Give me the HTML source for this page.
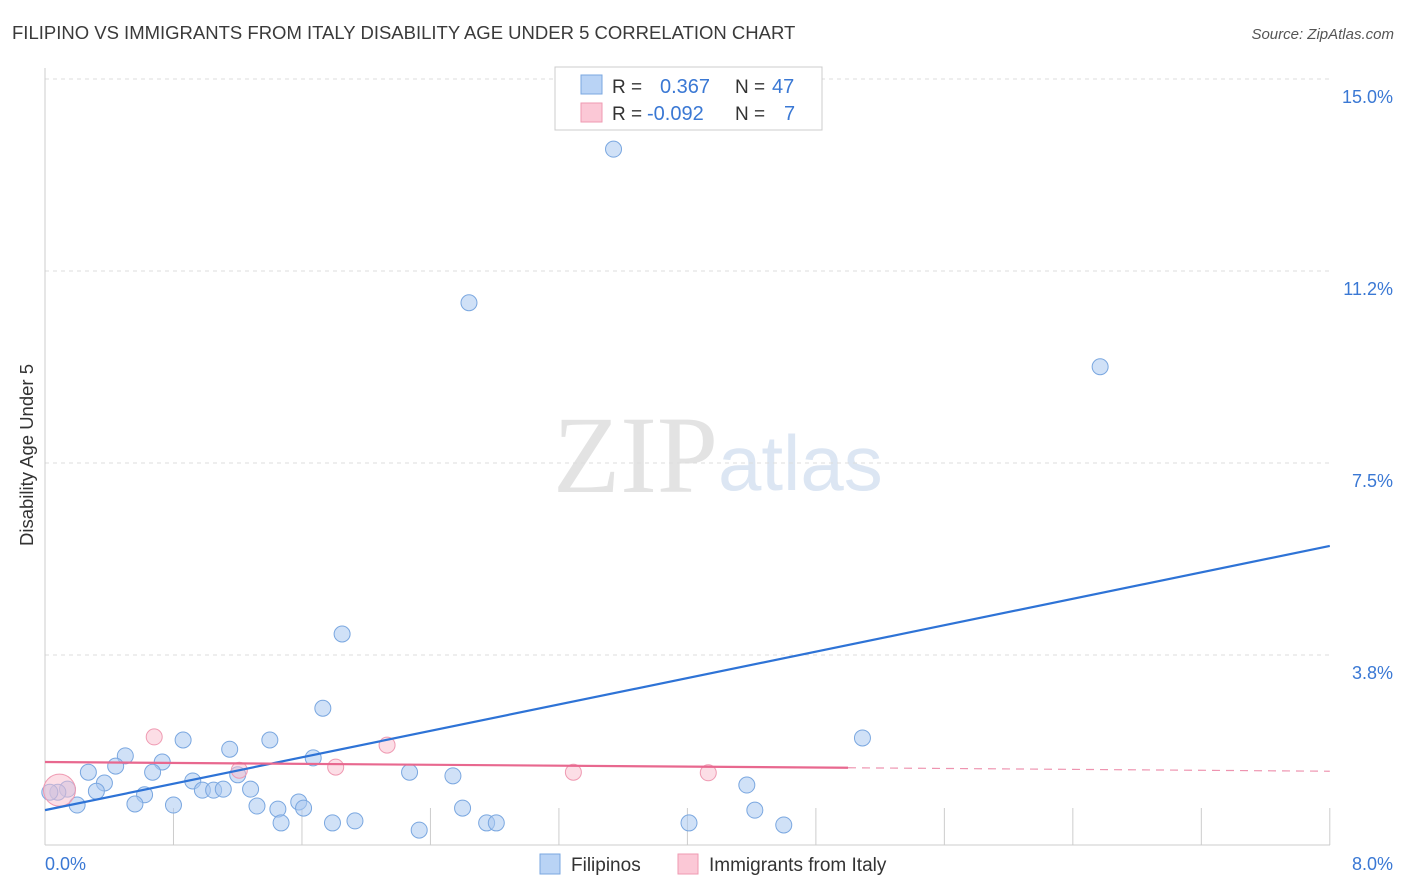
<!DOCTYPE html>
<html><head><meta charset="utf-8"><style>
body{margin:0;background:#fff;font-family:"Liberation Sans",sans-serif}
svg{display:block}
</style></head><body>
<svg width="1406" height="892" id="chart">
<text x="12" y="39" font-size="18.5" fill="#3a3a3a">FILIPINO VS IMMIGRANTS FROM ITALY DISABILITY AGE UNDER 5 CORRELATION CHART</text>
<text x="1394" y="39" font-size="15" fill="#555" font-style="italic" text-anchor="end">Source: ZipAtlas.com</text>
<text x="33" y="455" font-size="18.5" fill="#333" text-anchor="middle" transform="rotate(-90 33 455)">Disability Age Under 5</text>
<text x="553" y="492" font-size="110" fill="#e3e3e3" font-family="Liberation Serif,serif">ZIP</text>
<text x="718" y="490" font-size="78" fill="#dce6f3">atlas</text>
<g id="grid"></g><g id="marks"></g>
<g>
<rect x="555" y="67" width="267" height="63" fill="#fff" stroke="#ccc"/>
<rect x="581" y="75" width="21" height="19" fill="#b9d3f5" stroke="#7aa7e0"/>
<rect x="581" y="103" width="21" height="19" fill="#fbc8d6" stroke="#ef9ab2"/>
<text x="612" y="93" font-size="19" fill="#333">R =</text><text x="660" y="93" font-size="20" fill="#3a78d4">0.367</text>
<text x="735" y="93" font-size="19" fill="#333">N =</text><text x="772" y="93" font-size="20" fill="#3a78d4">47</text>
<text x="612" y="120" font-size="19" fill="#333">R =</text><text x="647" y="120" font-size="20" fill="#3a78d4">-0.092</text>
<text x="735" y="120" font-size="19" fill="#333">N =</text><text x="784" y="120" font-size="20" fill="#3a78d4">7</text>
</g>
<g>
<rect x="540" y="854" width="20" height="20" fill="#b9d3f5" stroke="#7aa7e0"/>
<text x="571" y="871" font-size="19" fill="#333">Filipinos</text>
<rect x="678" y="854" width="20" height="20" fill="#fbc8d6" stroke="#ef9ab2"/>
<text x="709" y="871" font-size="19" fill="#333">Immigrants from Italy</text>
</g>
</svg>
<script>
const yTicks=[3.8,7.5,11.2,15.0];
const yTickVals=[3.75,7.5,11.25,15];
const xTickLabels=["0.0%","8.0%"];
const blueX=[3.54,2.64,6.57,1.85,1.73,5.09,0.86,1.40,1.15,0.50,0.73,0.44,1.67,0.27,0.67,1.20,2.27,2.54,0.92,0.37,0.32,0.14,0.08,0.98,1.05,1.11,1.28,0.62,0.80,0.56,0.20,1.32,1.58,1.61,1.45,2.60,4.37,4.42,1.47,1.79,1.93,2.33,2.75,2.81,4.01,4.60,0.03];
const blueY=[13.63,10.63,9.38,4.16,2.71,2.13,2.09,2.09,1.91,1.78,1.66,1.58,1.74,1.46,1.46,1.41,1.46,1.39,1.29,1.25,1.09,1.13,1.07,1.11,1.11,1.13,1.13,1.02,0.82,0.84,0.82,0.80,0.88,0.76,0.74,0.76,1.21,0.72,0.47,0.47,0.51,0.33,0.47,0.47,0.47,0.43,1.07];
const pinkX=[0.68,2.13,1.81,1.21,3.29,4.13,0.09];
const pinkY=[2.15,1.99,1.56,1.50,1.46,1.45,1.11];
const blueTrend=[0.72,5.88];
const pinkTrend=[1.66,1.48];
const pinkSolidEnd=5.0;
const sx=v=>45+v*160.6, sy=v=>847-v*51.2;
const NS="http://www.w3.org/2000/svg";
function mk(p,t,a){const e=document.createElementNS(NS,t);for(const k in a)e.setAttribute(k,a[k]);p.appendChild(e);return e;}
const g=document.getElementById('grid'), m=document.getElementById('marks');
yTickVals.forEach((v,i)=>{
 const l=mk(g,'line',{x1:45,x2:1330,y1:sy(v),y2:sy(v),stroke:'#ddd','stroke-dasharray':'4,4'});
 
 
 const t=mk(g,'text',{x:1393,y:sy(v)+24,'font-size':18,fill:'#3a78d4','text-anchor':'end'});
 t.textContent=yTicks[i].toFixed(1)+'%';
 
 
});
const ax=mk(g,'line',{x1:45,x2:45,y1:68,y2:845,stroke:'#ccc'});


const bx=mk(g,'line',{x1:45,x2:1330,y1:845,y2:845,stroke:'#ccc'});


for(let i=0;i<=10;i++){const v=i*0.8;const t=mk(g,'line',{x1:sx(v),x2:sx(v),y1:808,y2:845,stroke:'#ccc'});
 
 }
[[0,'start',45],[8,'end',1393]].forEach((a,i)=>{const t=mk(g,'text',{x:a[2],y:870,'font-size':18,fill:'#3a78d4','text-anchor':a[1]});t.textContent=xTickLabels[i];
 
 });
blueX.forEach((x,i)=>{const c=mk(m,'circle',{cx:sx(x),cy:sy(blueY[i]),r:8,fill:'rgba(170,200,240,0.55)',stroke:'#7aa7e0','stroke-width':1});
 
 });
pinkX.forEach((x,i)=>{const c=mk(m,'circle',{cx:sx(x),cy:sy(pinkY[i]),r:i==6?16:8,fill:'rgba(250,190,205,0.5)',stroke:'#ef9ab2','stroke-width':1});
 
 });
const bl=mk(m,'line',{x1:sx(0),y1:sy(blueTrend[0]),x2:sx(8),y2:sy(blueTrend[1]),stroke:'#2e73d6','stroke-width':2.2});


const pAt=v=>pinkTrend[0]+(pinkTrend[1]-pinkTrend[0])*v/8;
const pl=mk(m,'line',{x1:sx(0),y1:sy(pAt(0)),x2:sx(pinkSolidEnd),y2:sy(pAt(pinkSolidEnd)),stroke:'#e8688f','stroke-width':2.2});


const pd=mk(m,'line',{x1:sx(pinkSolidEnd),y1:sy(pAt(pinkSolidEnd)),x2:sx(8),y2:sy(pAt(8)),stroke:'#e8688f','stroke-width':1.2,'stroke-dasharray':'8,6',opacity:0.7});


</script>
</body></html>
